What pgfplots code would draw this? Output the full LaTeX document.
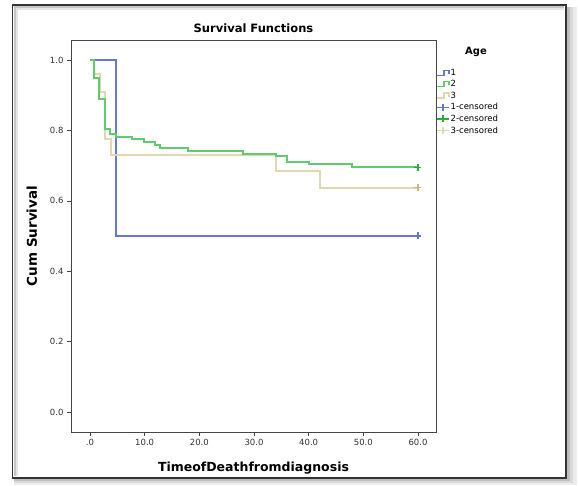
\documentclass[border=0pt]{standalone}
\usepackage{pgfplots}
\pgfplotsset{compat=1.18}
\usepackage{fontspec}
\setmainfont{DejaVu Sans}
\definecolor{kmblue}{RGB}{100,120,210}
\definecolor{kmgreen}{RGB}{96,204,110}
\definecolor{kmtan}{RGB}{224,217,176}
\definecolor{cgreen}{RGB}{40,170,60}
\definecolor{ctan}{RGB}{200,185,130}
\definecolor{framegray}{RGB}{70,70,70}
\pgfplotsset{
  steplegend/.style={legend image code/.code={
    \draw[#1, line width=1.4pt] (0pt,-2.5pt) -- (7pt,-2.5pt) -- (7pt,2.5pt) -- (12pt,2.5pt) -- (12pt,-1pt);}},
  censlegend/.style={legend image code/.code={
    \draw[#1, line width=1.2pt] (0pt,0pt) -- (12pt,0pt);
    \draw[#1, line width=1.2pt] (6pt,-3.5pt) -- (6pt,3.5pt);}},
}
\begin{document}
\begin{tikzpicture}[x=1pt,y=1pt]
\fill[white] (0,0) rectangle (578,486);
\fill[gray!15] (14,1) rectangle (577,479);
\fill[gray!30] (14,3) rectangle (573,479);
\fill[gray!50] (14,5) rectangle (569.5,479);
\draw[black!80, line width=1.8pt, fill=white] (12.5,8) rectangle (566,481);
\draw[gray!45, line width=2pt] (15,10) -- (15,478.5) -- (564,478.5);
\draw[gray!20, line width=2pt] (17,10) -- (17,476.5) -- (564,476.5);
\begin{axis}[
    at={(71pt,54pt)}, anchor=south west,
    scale only axis,
    width=365pt, height=392pt,
    xmin=-3.48, xmax=63.3,
    ymin=-0.057, ymax=1.057,
    axis line style={framegray, line width=0.9pt},
    tick align=outside, major tick length=4pt,
    tick style={framegray, line width=0.6pt},
    xtick pos=bottom, ytick pos=left,
    xtick={0,10,20,30,40,50,60},
    xticklabels={.0,10.0,20.0,30.0,40.0,50.0,60.0},
    ytick={0,0.2,0.4,0.6,0.8,1.0},
    yticklabels={0.0,0.2,0.4,0.6,0.8,1.0},
    ticklabel style={font=\fontsize{8.5}{10}\selectfont, text=black!80},
    /pgf/number format/assume math mode=true,
    title={\textbf{Survival Functions}},
    title style={font=\fontsize{11.5}{13}\selectfont, yshift=-2pt},
    xlabel={\textbf{TimeofDeathfromdiagnosis}},
    ylabel={\textbf{Cum Survival}},
    label style={font=\fontsize{12.5}{14}\selectfont},
    xlabel style={yshift=-9pt},
    ylabel style={yshift=6pt, font=\fontsize{13.5}{15}\selectfont},
    legend style={at={(1,0.937)}, anchor=north west, draw=none, fill=none,
        font=\fontsize{8.5}{10}\selectfont, row sep=-0.3pt, inner xsep=0pt,
        nodes={inner xsep=1pt}},
    legend cell align=left,
]
\addlegendimage{steplegend=kmblue}
\addlegendentry{1}
\addlegendimage{steplegend=kmgreen}
\addlegendentry{2}
\addlegendimage{steplegend=kmtan}
\addlegendentry{3}
\addplot[forget plot, const plot, kmblue, line width=2pt] coordinates {
(0,1.0) (4.8,0.5) (60,0.5)};
\addplot[forget plot, const plot, kmtan, line width=2pt] coordinates {
(0,1.0) (0.8,0.96) (1.8,0.91) (2.75,0.775) (3.8,0.729)
(34,0.685) (42,0.637) (60,0.637)};
\addplot[forget plot, const plot, kmgreen, line width=2pt] coordinates {
(0,1.0) (0.7,0.95) (1.7,0.888) (2.75,0.803) (3.65,0.789) (4.75,0.780)
(7.7,0.775) (9.9,0.767) (11.9,0.758) (12.8,0.75) (17.9,0.742) (27.9,0.734)
(34,0.727) (36,0.711) (40,0.704) (48,0.695) (60,0.695)};
\addplot[only marks, mark=+, mark size=3.5pt, kmblue, mark options={line width=1.2pt}, censlegend=kmblue]
    coordinates {(60,0.5)};
\addlegendentry{1-censored}
\addplot[only marks, mark=+, mark size=3.5pt, cgreen, mark options={line width=1.2pt}, censlegend=cgreen]
    coordinates {(60,0.695)};
\addlegendentry{2-censored}
\addplot[only marks, mark=+, mark size=3.5pt, ctan, mark options={line width=1.2pt}, censlegend=kmtan]
    coordinates {(60,0.637)};
\addlegendentry{3-censored}
\end{axis}
\node[font=\fontsize{10}{12}\selectfont\bfseries] at (476,434) {Age};
\end{tikzpicture}
\end{document}
